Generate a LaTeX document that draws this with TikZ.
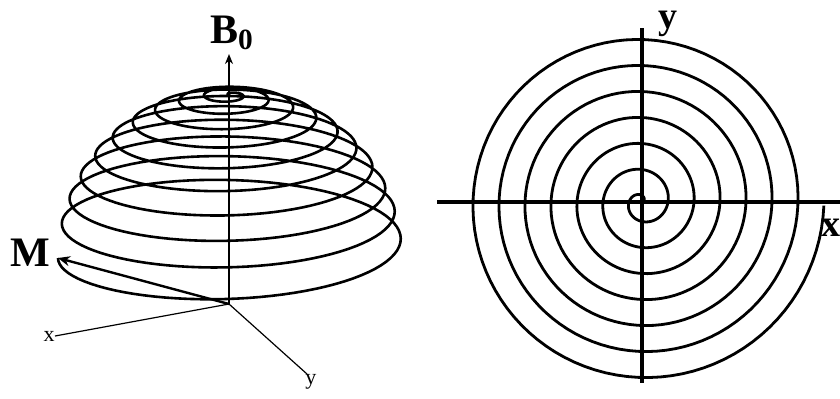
\documentclass[tikz,border=0pt]{standalone}
\usepackage{fontspec}
\setmainfont{Liberation Serif}
\usepackage{tikz}
\usetikzlibrary{arrows.meta}
\tikzstyle{spiralline} = [line width=1.3pt, line join=round]
\tikzstyle{thinaxis} = [line width=0.6pt]
\tikzstyle{bigaxis} = [line width=1.6pt]
\tikzstyle{biglabel} = [font=\fontsize{21}{21}\selectfont\bfseries, inner sep=0pt]
\tikzstyle{smalllabel} = [font=\fontsize{11}{11}\selectfont, inner sep=0pt]

\begin{document}
\begin{tikzpicture}[x=0.5pt, y=-0.5pt, >=Stealth]
\useasboundingbox (0,0) rectangle (840,398);

\coordinate (O) at (229,304);
\coordinate (Btip) at (229,54);
\coordinate (Mtip) at (58,258);
\coordinate (xend) at (55,336);
\coordinate (yend) at (307,374);

\node[biglabel] (B0) at (232,33) {B\textsubscript{0}};
\node[biglabel] (M) at (30,253) {M};
\node[smalllabel, anchor=east] (xlbl) at (xend) {x};
\node[smalllabel, anchor=north west, xshift=-1pt] (ylbl) at (yend) {y};

\draw[thinaxis] (O) -- (xend);
\draw[thinaxis] (O) -- (yend);
\draw[-{Stealth[length=5pt,width=4pt]}, line width=1pt] (O) -- (Btip);
\draw[-{Stealth[length=6pt,width=5pt]}, line width=1.2pt] (O) -- (Mtip);

\draw[spiralline] plot[domain=0:10, samples=900, variable=\t]
({230+172*sin(90-8.6*\t-4*(1-exp(-2*\t)))*cos(180+360*\t)},
 {258-163.4*cos(90-8.6*\t-4*(1-exp(-2*\t)))-51.6*sin(90-8.6*\t-4*(1-exp(-2*\t)))*sin(180+360*\t)});

\coordinate (C) at (642,202);
\coordinate (xleft) at (437,202);
\coordinate (xright) at (842,202);
\coordinate (ytop) at (642,28);
\coordinate (ybot) at (642,383);

\draw[bigaxis] (xleft) -- (xright);
\draw[bigaxis] (ytop) -- (ybot);
\node[biglabel, font=\fontsize{19}{19}\selectfont\bfseries] (ylabel) at (668,24) {y};
\node[biglabel, font=\fontsize{19}{19}\selectfont\bfseries] (xlabel) at (831,228) {x};

\draw[spiralline, line width=1.4pt] plot[domain=0:7, samples=700, variable=\t]
({642+26*\t*cos(360*\t)}, {202-26*\t*sin(360*\t)});
\end{tikzpicture}
\end{document}
